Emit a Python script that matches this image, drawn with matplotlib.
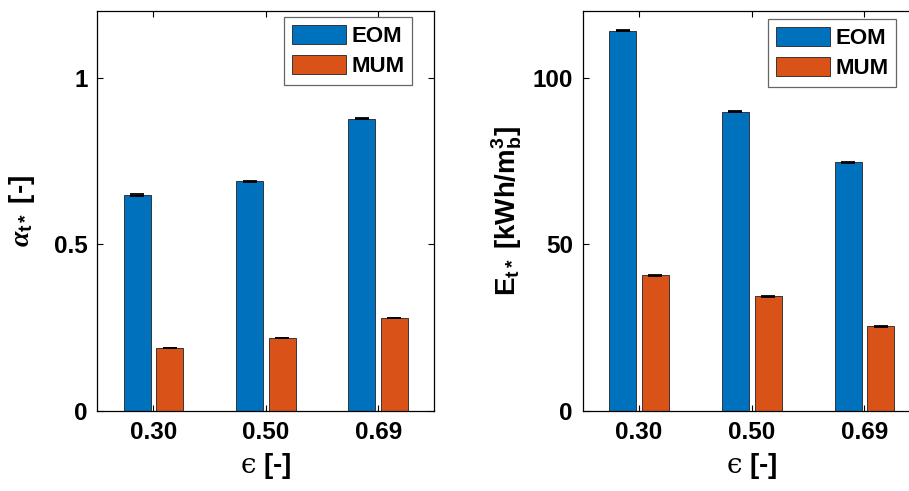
import matplotlib
matplotlib.use("Agg")
import matplotlib.pyplot as plt
import numpy as np

# Porosity cases and per-model results
porosity_labels = ["0.30", "0.50", "0.69"]
models = ["EOM", "MUM"]

alpha_eom = [0.648, 0.689, 0.877]
alpha_mum = [0.189, 0.219, 0.279]
alpha_eom_err = [0.002, 0.002, 0.002]
alpha_mum_err = [0.001, 0.001, 0.001]

energy_eom = [114.1, 89.8, 74.6]
energy_mum = [40.7, 34.4, 25.4]
energy_eom_err = [0.25, 0.2, 0.2]
energy_mum_err = [0.15, 0.15, 0.15]

plt.rcParams["font.family"] = ["Liberation Sans", "DejaVu Sans"]
plt.rcParams["font.weight"] = "bold"
plt.rcParams["mathtext.fontset"] = "custom"
plt.rcParams["mathtext.rm"] = "Liberation Sans:bold"
plt.rcParams["mathtext.bf"] = "Liberation Sans:bold"
plt.rcParams["mathtext.it"] = "Liberation Serif:italic"
plt.rcParams["mathtext.sf"] = "DejaVu Serif:weight=normal"

colors = {"EOM": "#0072BD", "MUM": "#D95319"}
W, H = 909, 491
fig = plt.figure(figsize=(W / 100, H / 100), dpi=100)

ax1 = fig.add_axes([97.3 / W, (H - 411) / H, 337 / W, 400 / H])
ax2 = fig.add_axes([582.7 / W, (H - 411) / H, 338 / W, 400 / H])

x = np.arange(1, len(porosity_labels) + 1)
offset = 0.145
width = 0.24


def draw(ax, eom, mum, eom_err, mum_err, ylim, yticks, yticklabels, ylabel,
         ylabelpad, leg_anchor):
    for vals, errs, sign, name in ((eom, eom_err, -1, "EOM"), (mum, mum_err, 1, "MUM")):
        pos = x + sign * offset
        ax.bar(pos, vals, width=width, color=colors[name], edgecolor="#222222",
               linewidth=0.6, label=name, zorder=2)
        ax.errorbar(pos, vals, yerr=errs, fmt="none", ecolor="black",
                    elinewidth=1.0, capsize=5, capthick=1.3, zorder=3)
    ax.set_xlim(0.5, 3.5)
    ax.set_ylim(*ylim)
    ax.set_xticks(x)
    ax.set_xticklabels(porosity_labels)
    ax.set_yticks(yticks)
    ax.set_yticklabels(yticklabels)
    ax.tick_params(direction="in", length=4, width=0.8, top=True, right=True,
                   labelsize=17.5, pad=7)
    for lab in ax.get_xticklabels() + ax.get_yticklabels():
        lab.set_fontweight("bold")
    for sp in ax.spines.values():
        sp.set_linewidth(0.9)
        sp.set_color("black")
    ax.set_xlabel("$\\mathsf{\u03f5}$ [-]", fontsize=20, fontweight="bold", labelpad=5)
    ax.set_ylabel(ylabel, fontsize=20, fontweight="bold", labelpad=ylabelpad)
    leg = ax.legend(loc="upper right", bbox_to_anchor=leg_anchor, borderaxespad=0,
                    fontsize=16, handlelength=2.4, handleheight=0.95,
                    handletextpad=0.25, labelspacing=0.35, borderpad=0.35,
                    fancybox=False, framealpha=1, edgecolor="#666666")
    leg.get_frame().set_linewidth(0.9)
    for t in leg.get_texts():
        t.set_fontweight("bold")


draw(ax1, alpha_eom, alpha_mum, alpha_eom_err, alpha_mum_err, (0, 1.2),
     [0, 0.5, 1], ["0", "0.5", "1"], r"$\alpha_{\mathrm{t*}}$ [-]", 12,
     (0.934, 0.985))
draw(ax2, energy_eom, energy_mum, energy_eom_err, energy_mum_err, (0, 120),
     [0, 50, 100], ["0", "50", "100"],
     r"E$_{\mathrm{t*}}$ [kWh/$\mathrm{m}_{\mathrm{b}}^{\mathrm{3}}$]", 6,
     (0.927, 0.98))

fig.savefig("out.png", dpi=100)
